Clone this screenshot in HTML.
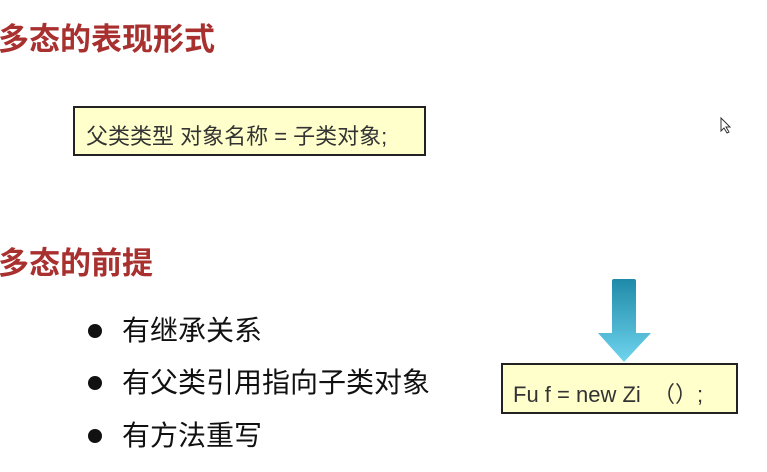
<!DOCTYPE html>
<html><head><meta charset="utf-8"><style>
body{margin:0;width:767px;height:472px;background:#fff;position:relative;overflow:hidden;font-family:"Liberation Sans","Noto Sans CJK SC",sans-serif}
.t{position:absolute;left:-2px;font-size:31px;font-weight:bold;color:#a8302f;line-height:32px}
.box{position:absolute;background:#ffffcc;border:2px solid #222;box-sizing:border-box;color:#333;white-space:nowrap}
.b{position:absolute;left:88px;width:14px;height:14px;border-radius:50%;background:#111}
.bt{position:absolute;left:122px;font-size:28px;color:#111;line-height:30px;white-space:nowrap}
</style></head><body>
<div class="t" style="top:24px">多态的表现形式</div>
<div class="box" style="left:73px;top:106px;width:353px;height:50px;font-size:22px;padding:11px 0 0 11px">父类类型 对象名称 = 子类对象;</div>
<div class="t" style="top:248px">多态的前提</div>
<div class="b" style="top:324px"></div><div class="bt" style="top:316px">有继承关系</div>
<div class="b" style="top:376px"></div><div class="bt" style="top:368px">有父类引用指向子类对象</div>
<div class="b" style="top:429px"></div><div class="bt" style="top:421px">有方法重写</div>
<svg style="position:absolute;left:0;top:0" width="767" height="472">
<defs><linearGradient id="g" x1="0" y1="0" x2="0" y2="1"><stop offset="0" stop-color="#1f8aa8"/><stop offset="1" stop-color="#6fd4ee"/></linearGradient></defs>
<path d="M612,281 Q612,279 614,279 L634,279 Q636,279 636,281 L636,333 L651,333 L624,362 L598,333 L612,333 Z" fill="url(#g)"/>
<path d="M721,118 L721,131 L724,128 L727,133 L729,132 L726,127 L730,127 Z" fill="#fff" stroke="#333" stroke-width="1"/>
</svg>
<div class="box" style="left:501px;top:363px;width:237px;height:51px;font-size:22px;padding:12px 0 0 10px">Fu f = new Zi &nbsp;（）;</div>
</body></html>
